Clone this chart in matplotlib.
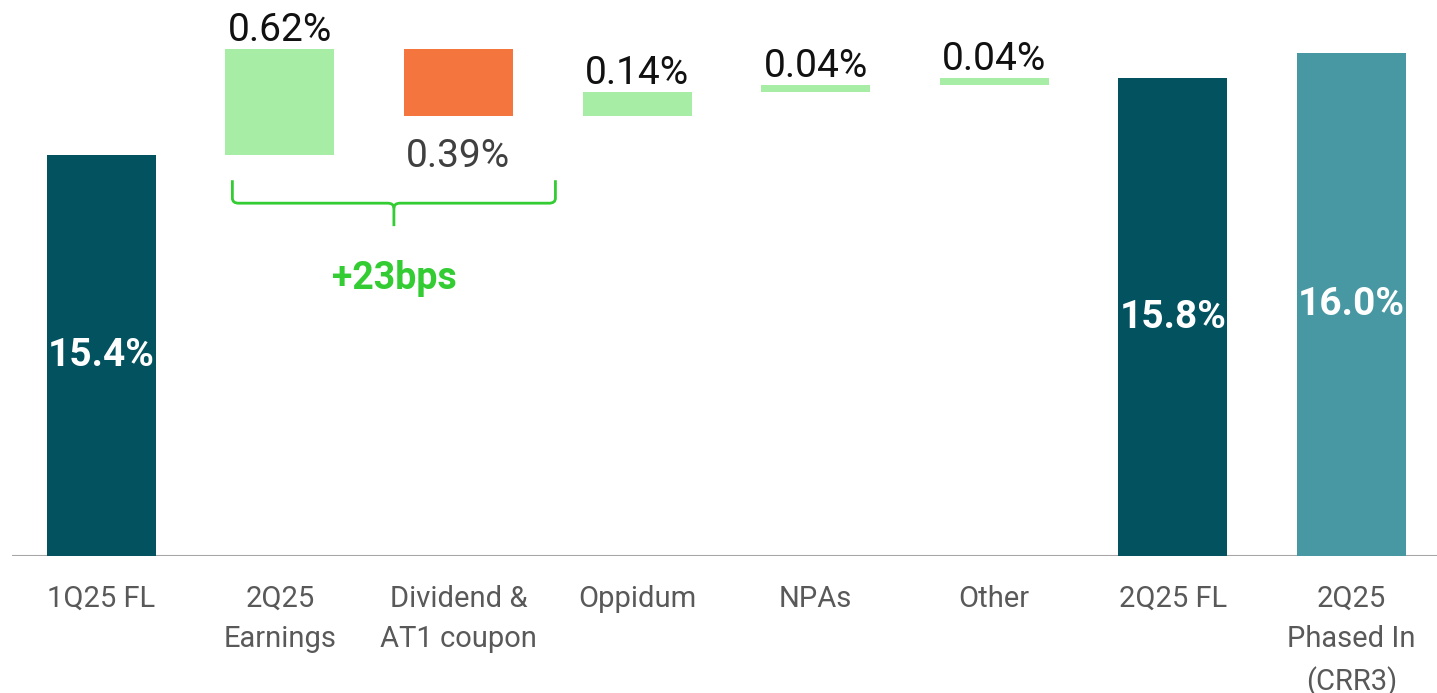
import matplotlib.pyplot as plt
from matplotlib.path import Path
from matplotlib.patches import PathPatch

plt.rcParams["font.family"] = ["Roboto", "DejaVu Sans"]

# data
categories = ["1Q25 FL", "2Q25\nEarnings", "Dividend &\nAT1 coupon", "Oppidum",
              "NPAs", "Other", "2Q25 FL", "2Q25\nPhased In\n(CRR3)"]
start = 15.4
deltas = [0.62, -0.39, 0.14, 0.04, 0.04]
delta_labels = ["0.62%", "0.39%", "0.14%", "0.04%", "0.04%"]
phased_in = 16.0
total_labels = ["15.4%", "15.8%", "16.0%"]
bracket_text = "+23bps"

DARK = "#02525F"
LIGHT = "#4898A3"
UP = "#A8EDA5"
DOWN = "#F4763E"
BRACKET = "#33CC33"

fig = plt.figure(figsize=(14.37, 6.93), dpi=100)
ax = fig.add_axes([0.00835, 0.1977, 0.9942, 0.8023])
ymin, ymax = 13.04, 16.31
ax.set_xlim(-0.5, 7.5)
ax.set_ylim(ymin, ymax)
w = 0.61

# total bars
end = start + sum(deltas)
totals = [start, end, phased_in]
total_x = [0, 6, 7]
total_colors = [DARK, DARK, LIGHT]
for x, v, c, lab in zip(total_x, totals, total_colors, total_labels):
    ax.bar(x, v - ymin, bottom=ymin, width=w, color=c, zorder=2)
    ax.text(x, (v + ymin) / 2, lab, ha="center", va="center", color="white",
            fontsize=28, fontweight="bold", zorder=3)

# floating bars
level = start
for i, (d, lab) in enumerate(zip(deltas, delta_labels)):
    x = i + 1
    bottom = level if d > 0 else level + d
    ax.bar(x, abs(d), bottom=bottom, width=w, color=UP if d > 0 else DOWN, zorder=2)
    if d > 0:
        ax.annotate(lab, (x, bottom + d), xytext=(0, 0), textcoords="offset points",
                    ha="center", va="bottom", fontsize=28, color="#111111")
    else:
        ax.annotate(lab, (x, bottom), xytext=(0, -16), textcoords="offset points",
                    ha="center", va="top", fontsize=28, color="#404040")
    level += d

# bracket under the earnings and dividend bars
x0, x1 = 1 - 0.266, 2 + 0.543
xm = (x0 + x1) / 2
yt, yh, yb = 15.25, 15.115, 14.98
r = 0.035
verts = [(x0, yt), (x0, yh + 0.03), (x0, yh), (x0 + r, yh),
         (xm - r, yh), (xm, yh), (xm, yh - 0.03), (xm, yb)]
codes = [Path.MOVETO, Path.LINETO, Path.CURVE3, Path.CURVE3,
         Path.LINETO, Path.CURVE3, Path.CURVE3, Path.LINETO]
ax.add_patch(PathPatch(Path(verts, codes), fill=False, edgecolor=BRACKET, lw=2))
verts = [(x1, yt), (x1, yh + 0.03), (x1, yh), (x1 - r, yh),
         (xm + r, yh), (xm, yh), (xm, yh - 0.03)]
codes = [Path.MOVETO, Path.LINETO, Path.CURVE3, Path.CURVE3,
         Path.LINETO, Path.CURVE3, Path.CURVE3]
ax.add_patch(PathPatch(Path(verts, codes), fill=False, edgecolor=BRACKET, lw=2))
ax.text(xm, 14.67, bracket_text, ha="center", va="center", fontsize=27,
        fontweight="bold", color=BRACKET)

ax.axhline(ymin, color="#A6A6A6", lw=1.5, zorder=1)
for s in ax.spines.values():
    s.set_visible(False)
ax.set_yticks([])
ax.set_xticks(range(len(categories)))
ax.set_xticklabels(categories, fontsize=21, color="#595959", linespacing=1.55)
ax.tick_params(axis="x", length=0, pad=21)

fig.savefig("out.png", dpi=100)
